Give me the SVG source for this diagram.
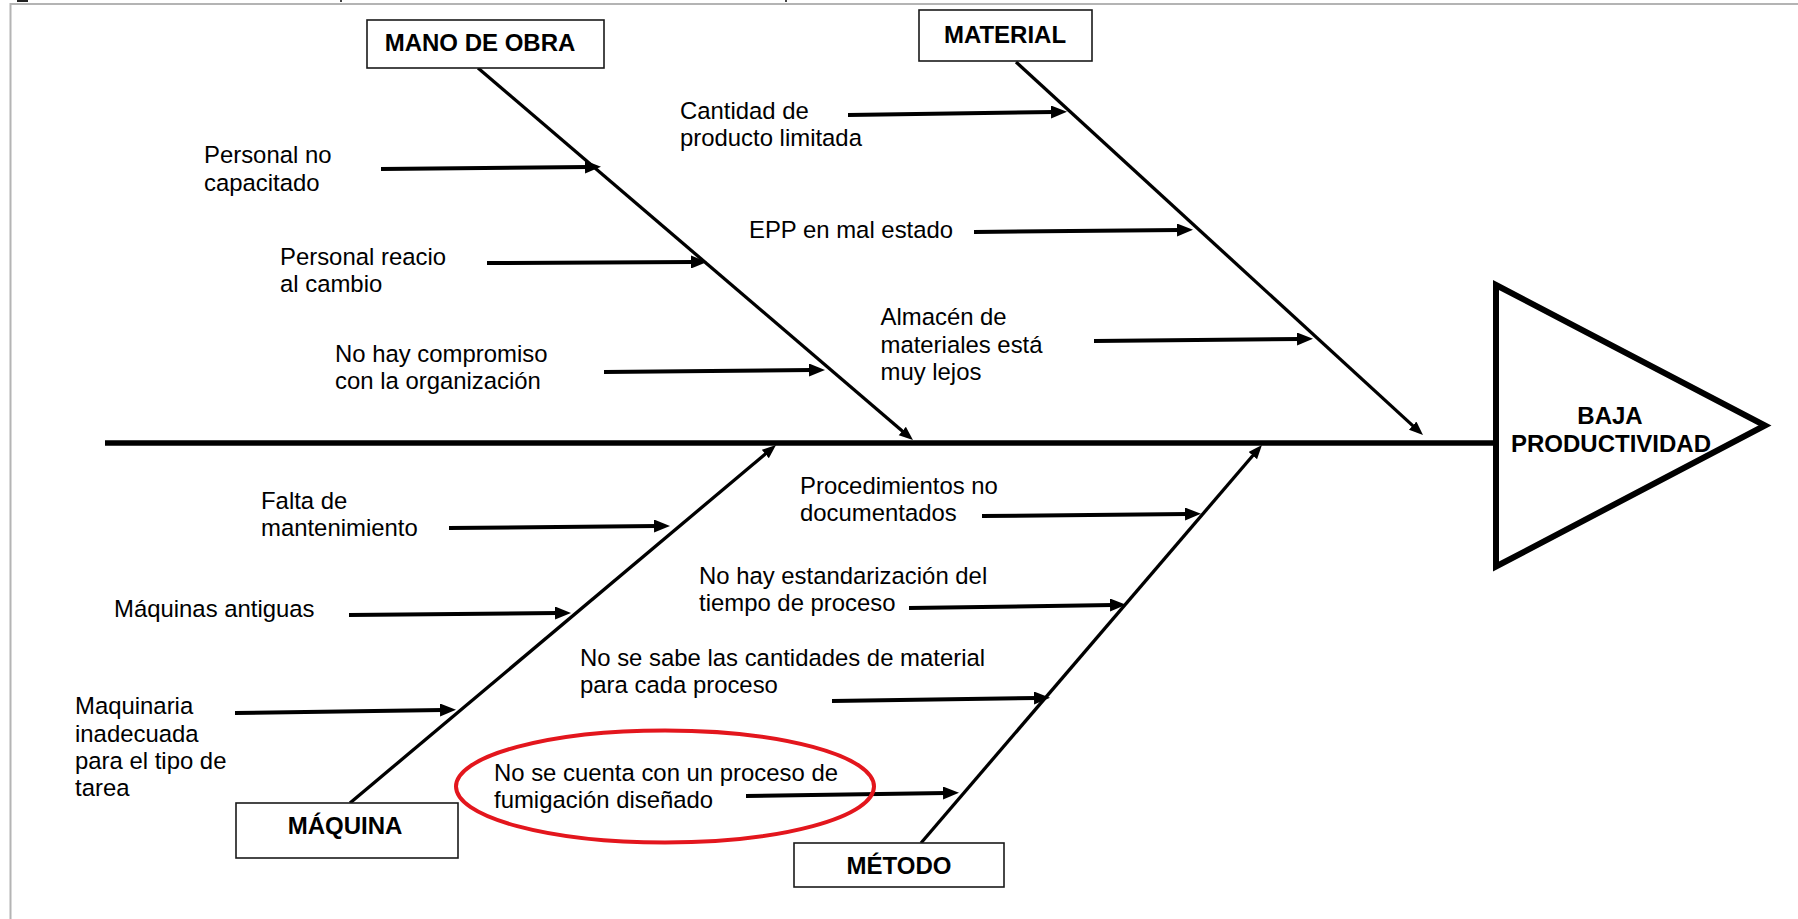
<svg xmlns="http://www.w3.org/2000/svg" width="1798" height="919" viewBox="0 0 1798 919">
  <style>
    .t { font-family: "Liberation Sans", Arial, sans-serif; font-size: 23.9px; fill: #000; }
    .b { font-family: "Liberation Sans", Arial, sans-serif; font-size: 24px; font-weight: bold; fill: #000; text-anchor: middle; }
    .box { fill: #fff; stroke: #1a1a1a; stroke-width: 1.6; }
    .bone { fill: none; stroke: #000; stroke-width: 3.3; marker-end: url(#headS); }
    .cause { fill: none; stroke: #000; stroke-width: 4; marker-end: url(#headL); }
    .frame { fill: none; stroke: #b4b4b4; stroke-width: 2; }
  </style>
  <defs>
    <marker id="headL" markerUnits="userSpaceOnUse" markerWidth="17" markerHeight="13" refX="3" refY="6.5" orient="auto">
      <path d="M0,0 L16,6.5 L0,13 Z" fill="#000"/>
    </marker>
    <marker id="headS" markerUnits="userSpaceOnUse" markerWidth="15" markerHeight="12" refX="3" refY="5.5" orient="auto">
      <path d="M0,0 L14,5.5 L0,11 Z" fill="#000"/>
    </marker>
  </defs>

  <rect width="1798" height="919" fill="#fff"/>

  <!-- page frame and clipped caption marks -->
  <g id="frame">
    <path class="frame" d="M10.5,919 V4 H1798"/>
    <rect x="17" y="0" width="11" height="2" fill="#222"/>
    <rect x="340" y="0" width="2" height="2" fill="#444"/>
    <rect x="785" y="0" width="2" height="2" fill="#444"/>
  </g>

  <!-- spine, bones and cause arrows -->
  <g id="connectors">
    <line x1="105" y1="443" x2="1497" y2="443" stroke="#000" stroke-width="5.5"/>
    <path class="bone" d="M478,68 L904.6,432.9"/>
    <path class="bone" d="M1016,62 L1414.9,427.6"/>
    <path class="bone" d="M350,803 L767.6,452.1"/>
    <path class="bone" d="M921,843 L1254.8,453.3"/>

    <path class="cause" d="M381,169 L588,167"/>
    <path class="cause" d="M487,263 L694,262"/>
    <path class="cause" d="M604,372 L812,370"/>
    <path class="cause" d="M848,115 L1054,112"/>
    <path class="cause" d="M974,232 L1180,230"/>
    <path class="cause" d="M1094,341 L1300,339"/>
    <path class="cause" d="M449,528 L657,526"/>
    <path class="cause" d="M349,615 L558,613"/>
    <path class="cause" d="M235,713 L443,710"/>
    <path class="cause" d="M746,796 L946,793"/>
    <path class="cause" d="M832,701 L1037,698"/>
    <path class="cause" d="M909,608 L1113,605"/>
    <path class="cause" d="M982,516 L1188,514"/>
  </g>

  <!-- effect head -->
  <g id="effect">
    <polygon points="1496,285 1765,425.5 1496,566.5" fill="#fff" stroke="#000" stroke-width="6" stroke-linejoin="miter"/>
    <text class="b" x="1610" y="424">BAJA</text>
    <text class="b" x="1611" y="451.5">PRODUCTIVIDAD</text>
  </g>

  <!-- category boxes -->
  <g id="mano-de-obra">
    <rect class="box" x="367" y="20" width="237" height="48"/>
    <text class="b" x="480" y="51">MANO DE OBRA</text>
  </g>
  <g id="material">
    <rect class="box" x="919" y="10" width="173" height="51"/>
    <text class="b" x="1005" y="42.5">MATERIAL</text>
  </g>
  <g id="maquina">
    <rect class="box" x="236" y="803" width="222" height="55"/>
    <text class="b" x="345" y="834">MÁQUINA</text>
  </g>
  <g id="metodo">
    <rect class="box" x="794" y="843" width="210" height="44"/>
    <text class="b" x="899" y="874">MÉTODO</text>
  </g>

  <!-- causes: mano de obra -->
  <g id="c-personal-no-capacitado">
    <text class="t" x="204" y="163">Personal no</text>
    <text class="t" x="204" y="190.5">capacitado</text>
  </g>
  <g id="c-personal-reacio">
    <text class="t" x="280" y="265">Personal reacio</text>
    <text class="t" x="280" y="292">al cambio</text>
  </g>
  <g id="c-compromiso">
    <text class="t" x="335" y="361.5">No hay compromiso</text>
    <text class="t" x="335" y="388.5">con la organización</text>
  </g>

  <!-- causes: material -->
  <g id="c-cantidad">
    <text class="t" x="680" y="118.5">Cantidad de</text>
    <text class="t" x="680" y="146">producto limitada</text>
  </g>
  <g id="c-epp">
    <text class="t" x="749" y="237.5">EPP en mal estado</text>
  </g>
  <g id="c-almacen">
    <text class="t" x="880.5" y="325">Almacén de</text>
    <text class="t" x="880.5" y="352.5">materiales está</text>
    <text class="t" x="880.5" y="380">muy lejos</text>
  </g>

  <!-- causes: maquina -->
  <g id="c-mantenimiento">
    <text class="t" x="261" y="508.5">Falta de</text>
    <text class="t" x="261" y="536">mantenimiento</text>
  </g>
  <g id="c-antiguas">
    <text class="t" x="114" y="617">Máquinas antiguas</text>
  </g>
  <g id="c-inadecuada">
    <text class="t" x="75" y="714">Maquinaria</text>
    <text class="t" x="75" y="741.5">inadecuada</text>
    <text class="t" x="75" y="769">para el tipo de</text>
    <text class="t" x="75" y="796">tarea</text>
  </g>

  <!-- causes: metodo -->
  <g id="c-procedimientos">
    <text class="t" x="800" y="494">Procedimientos no</text>
    <text class="t" x="800" y="521">documentados</text>
  </g>
  <g id="c-estandarizacion">
    <text class="t" x="699" y="584">No hay estandarización del</text>
    <text class="t" x="699" y="611">tiempo de proceso</text>
  </g>
  <g id="c-cantidades">
    <text class="t" x="580" y="665.5">No se sabe las cantidades de material</text>
    <text class="t" x="580" y="692.5">para cada proceso</text>
  </g>
  <g id="c-fumigacion">
    <ellipse cx="665" cy="786.5" rx="209" ry="56" fill="none" stroke="#e3161d" stroke-width="4"/>
    <text class="t" x="494" y="780.5">No se cuenta con un proceso de</text>
    <text class="t" x="494" y="807.5">fumigación diseñado</text>
  </g>
</svg>
